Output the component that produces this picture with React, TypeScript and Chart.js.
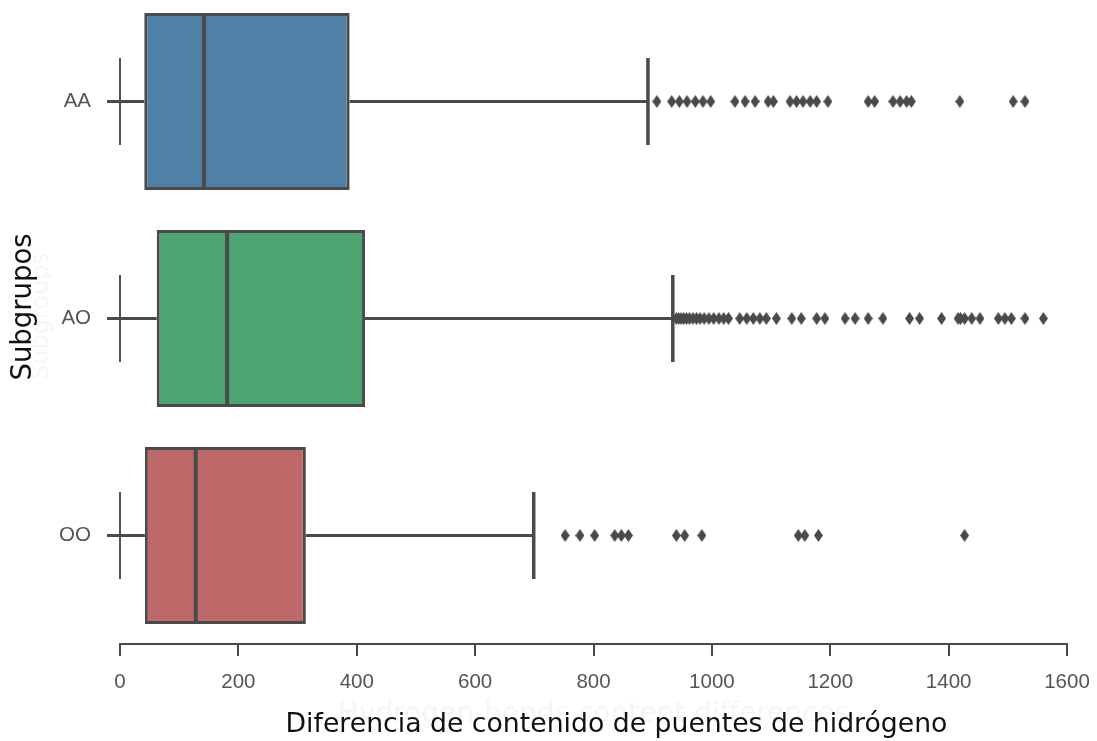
import React, { useEffect, useRef } from "react";
import { Chart, registerables } from "chart.js";

Chart.register(...registerables);

const categories = ["AA", "AO", "OO"];
const boxColors = ["#5180a7", "#4da371", "#bd6869"];
const q1 = [41, 62, 42];
const median = [142, 181, 128];
const q3 = [388, 414, 314];
const whiskerLow = [-22, -22, -22];
const capLow = [0, 0, 0];
const whiskerHigh = [892, 934, 699];

const outliersAA = [
  907, 932, 945, 958, 972, 985, 998, 1039, 1056, 1073, 1095, 1104, 1132, 1143, 1154, 1166,
  1177, 1196, 1264, 1275, 1306, 1318, 1329, 1337, 1419, 1509, 1529,
];
const outliersAO = [
  940, 944, 948, 952, 957, 962, 968, 974, 980, 987, 995, 1003, 1012, 1020, 1028, 1047, 1059,
  1070, 1081, 1092, 1109, 1135, 1151, 1177, 1191, 1225, 1242, 1264, 1289, 1334, 1351, 1388,
  1416, 1420, 1427, 1439, 1453, 1484, 1495, 1506, 1529, 1560,
];
const outliersOO = [752, 777, 802, 836, 847, 859, 940, 954, 983, 1146, 1157, 1180, 1427];
const outliers = [outliersAA, outliersAO, outliersOO];

const xMin = 0;
const xMax = 1600;
const xStep = 200;

const xTitle = "Diferencia de contenido de puentes de hidrógeno";
const yTitle = "Subgrupos";
const ghostXTitle = "Hydrogen-bonds content differences";
const ghostYTitle = "Subgroups";

const EDGE = "#4a4a4a";

function makeDiamond(): HTMLCanvasElement {
  const c = document.createElement("canvas");
  c.width = 9;
  c.height = 13;
  const g = c.getContext("2d")!;
  g.fillStyle = EDGE;
  g.beginPath();
  g.moveTo(4.5, 0);
  g.lineTo(9, 6.5);
  g.lineTo(4.5, 13);
  g.lineTo(0, 6.5);
  g.closePath();
  g.fill();
  return c;
}

const titlePlugin = {
  id: "axisTitles",
  afterDraw(chart: any) {
    const { ctx, chartArea } = chart;
    const cx = (chartArea.left + chartArea.right) / 2;
    ctx.save();
    ctx.textBaseline = "alphabetic";
    ctx.textAlign = "center";
    // faint ghost texts
    ctx.fillStyle = "rgba(0,0,0,0.04)";
    ctx.font = '28px "DejaVu Sans"';
    ctx.fillText(ghostXTitle, cx, chartArea.bottom + 78);
    ctx.save();
    ctx.translate(48, 316);
    ctx.rotate(-Math.PI / 2);
    ctx.font = '24px "DejaVu Sans"';
    ctx.fillText(ghostYTitle, 0, 0);
    ctx.restore();
    // real titles
    ctx.fillStyle = "#111111";
    ctx.font = '26.7px "DejaVu Sans"';
    ctx.fillText(xTitle, cx + 23, chartArea.bottom + 88);
    ctx.save();
    ctx.translate(31, 307);
    ctx.rotate(-Math.PI / 2);
    ctx.font = '27.5px "DejaVu Sans"';
    ctx.fillText(yTitle, 0, 0);
    ctx.restore();
    ctx.restore();
  },
};

export default function App() {
  const ref = useRef<HTMLCanvasElement>(null);

  useEffect(() => {
    if (!ref.current) return;
    const diamond = makeDiamond();
    const lineDs = (pts: { x: number; y: number }[], width: number, color = EDGE) => ({
      type: "line" as const,
      data: pts,
      borderColor: color,
      borderWidth: width,
      pointRadius: 0,
      showLine: true,
      fill: false,
      clip: false as any,
      order: 1,
    });

    const datasets: any[] = [];
    categories.forEach((_, i) => {
      datasets.push(lineDs([{ x: whiskerLow[i], y: i }, { x: q1[i], y: i }], 3));
      datasets.push(lineDs([{ x: q3[i], y: i }, { x: whiskerHigh[i], y: i }], 3));
      datasets.push(lineDs([{ x: capLow[i], y: i - 0.2 }, { x: capLow[i], y: i + 0.2 }], 2, "#555555"));
      datasets.push(lineDs([{ x: whiskerHigh[i], y: i - 0.2 }, { x: whiskerHigh[i], y: i + 0.2 }], 3.5));
      datasets.push(lineDs([{ x: median[i], y: i - 0.4 }, { x: median[i], y: i + 0.4 }], 4));
      datasets.push({
        type: "line",
        data: outliers[i].map((v) => ({ x: v, y: i })),
        showLine: false,
        pointStyle: diamond,
        pointRadius: 5,
        borderColor: EDGE,
        backgroundColor: EDGE,
        clip: false,
        order: 0,
      });
    });
    datasets.push({
      type: "bar",
      data: categories.map((_, i) => ({ x: [q1[i], q3[i]], y: i })),
      backgroundColor: boxColors,
      borderColor: EDGE,
      borderWidth: 3,
      borderSkipped: false,
      barPercentage: 0.815,
      categoryPercentage: 1,
      order: 2,
    });

    const chart = new Chart(ref.current, {
      type: "bar",
      data: { datasets },
      options: {
        indexAxis: "y",
        animation: false,
        responsive: false,
        events: [],
        layout: { padding: { top: 0, right: 30, left: 0, bottom: 0 } },
        plugins: { legend: { display: false }, tooltip: { enabled: false } },
        scales: {
          x: {
            type: "linear",
            position: "bottom",
            offset: false,
            min: xMin,
            max: xMax,
            ticks: {
              stepSize: xStep,
              callback: (v: any) => String(v),
              color: "#555555",
              font: { family: '"Liberation Sans"', size: 20.5 },
              padding: 14,
            },
            grid: {
              display: true,
              drawOnChartArea: false,
              drawTicks: true,
              tickLength: 12,
              color: EDGE,
              lineWidth: 2,
            },
            border: { display: true, color: EDGE, width: 2 },
            afterFit: (s: any) => {
              s.height = 97;
              s.paddingLeft = 0;
              s.paddingRight = 0;
            },
          },
          y: {
            type: "linear",
            position: "left",
            offset: false,
            reverse: true,
            min: -0.44,
            max: 2.5,
            afterBuildTicks: (s: any) => {
              s.ticks = categories.map((_, i) => ({ value: i }));
            },
            ticks: {
              callback: (v: any) => categories[v as number] ?? "",
              color: "#555555",
              font: { family: '"Liberation Sans"', size: 20.5 },
              padding: 21,
            },
            grid: { display: false },
            border: { display: false },
            afterFit: (s: any) => {
              s.width = 120;
              s.paddingTop = 0;
              s.paddingBottom = 0;
            },
          },
        },
      },
      plugins: [titlePlugin],
    });
    return () => chart.destroy();
  }, []);

  return (
    <div style={{ position: "fixed", left: 0, top: 0, width: 1097, height: 741, background: "#ffffff" }}>
      <canvas ref={ref} width={1097} height={741} style={{ display: "block" }} />
    </div>
  );
}
